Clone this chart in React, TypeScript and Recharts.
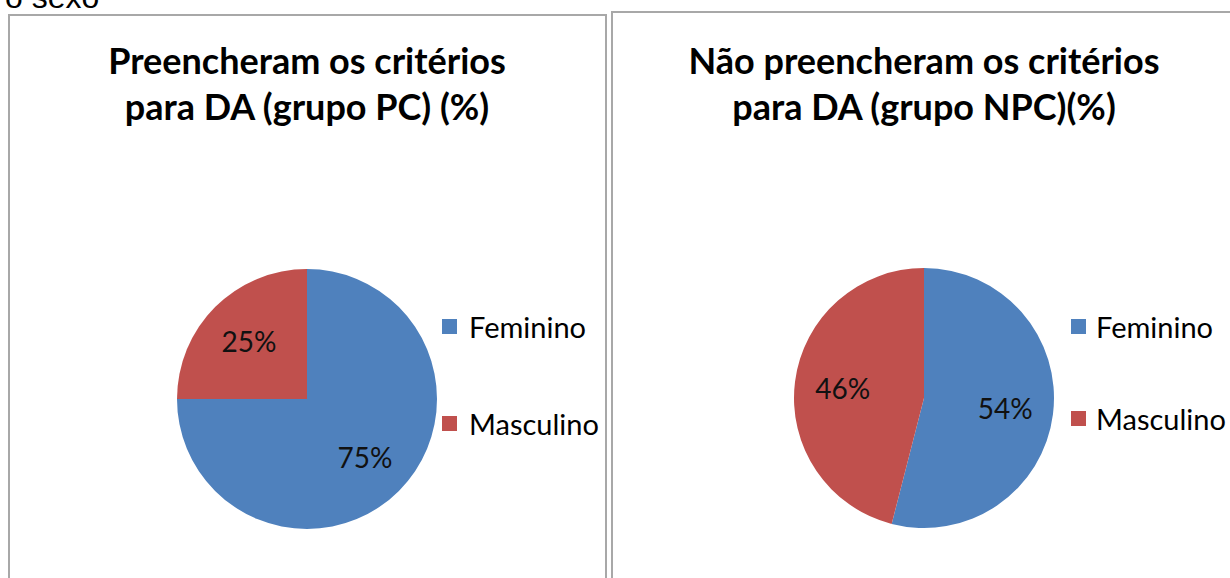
import { PieChart, Pie, Cell, Legend } from "recharts";

const categories = ["Feminino", "Masculino"];
const pcValues = [75, 25];
const npcValues = [54, 46];
const colors = ["#4F81BD", "#C0504D"];

const RAD = Math.PI / 180;

function renderLabel(props: any) {
  const { cx, cy, midAngle, outerRadius, value } = props;
  const r = outerRadius * 0.63;
  const x = cx + r * Math.cos(-midAngle * RAD);
  const y = cy + r * Math.sin(-midAngle * RAD);
  return (
    <text x={x} y={y} textAnchor="middle" dominantBaseline="central" fill="#111" fontSize={28} fontFamily="Lato">
      {value}%
    </text>
  );
}

function LegendBox({ gap, space }: { gap: number; space: number }) {
  return (
    <div>
      {categories.map((c, i) => (
        <div
          key={c}
          style={{ display: "flex", alignItems: "center", height: 30, marginBottom: i === 0 ? gap - 30 : 0, whiteSpace: "nowrap" }}
        >
          <span style={{ width: 15, height: 15, background: colors[i], display: "inline-block", marginRight: space }} />
          <span style={{ fontSize: 29, color: "#000", fontFamily: "Lato" }}>{c}</span>
        </div>
      ))}
    </div>
  );
}

function Panel({
  left,
  top,
  width,
  title,
  values,
  cx,
  cy,
  titleTop,
  legendLeft,
  legendTop,
  legendGap,
  legendSpace,
}: {
  left: number;
  top: number;
  width: number;
  title: string[];
  values: number[];
  cx: number;
  cy: number;
  titleTop: number;
  legendLeft: number;
  legendTop: number;
  legendGap: number;
  legendSpace: number;
}) {
  const data = categories.map((name, i) => ({ name, value: values[i] }));
  return (
    <div
      style={{
        position: "absolute",
        left,
        top,
        width,
        height: 620,
        border: "2px solid #a8a8a8",
        boxSizing: "border-box",
        background: "#fff",
      }}
    >
      <div
        style={{
          position: "absolute",
          left: cx - 300,
          top: titleTop,
          width: 600,
          textAlign: "center",
          fontFamily: "Lato",
          fontWeight: 700,
          fontSize: 36,
          lineHeight: "46px",
          color: "#000",
        }}
      >
        {title.map((t) => (
          <div key={t}>{t}</div>
        ))}
      </div>
      <PieChart
        width={width - 4}
        height={600}
        margin={{ top: 0, right: 0, bottom: 0, left: 0 }}
        style={{ position: "absolute", left: 0, top: 0 }}
      >
        <Pie
          data={data}
          dataKey="value"
          nameKey="name"
          cx={cx}
          cy={cy}
          outerRadius={130}
          startAngle={90}
          endAngle={-270}
          stroke="none"
          label={renderLabel}
          labelLine={false}
          isAnimationActive={false}
        >
          {data.map((d, i) => (
            <Cell key={d.name} fill={colors[i]} />
          ))}
        </Pie>
        <Legend
          content={() => <LegendBox gap={legendGap} space={legendSpace} />}
          wrapperStyle={{ left: legendLeft, top: legendTop, width: 170 }}
        />
      </PieChart>
    </div>
  );
}

export default function App() {
  return (
    <div
      style={{
        position: "absolute",
        left: 0,
        top: 0,
        width: 1230,
        height: 578,
        overflow: "hidden",
        background: "#fff",
      }}
    >
      <div style={{ position: "absolute", left: 5, top: -21, fontFamily: "Liberation Sans", fontSize: 32, color: "#000" }}>
        o sexo
      </div>
      <Panel
        left={8}
        top={14}
        width={599}
        title={["Preencheram os critérios", "para DA (grupo PC) (%)"]}
        values={pcValues}
        cx={297}
        cy={383}
        titleTop={21}
        legendLeft={432}
        legendTop={295}
        legendGap={97}
        legendSpace={12}
      />
      <Panel
        left={611}
        top={11}
        width={640}
        title={["Não preencheram os critérios", "para DA (grupo NPC)(%)"]}
        values={npcValues}
        cx={311}
        cy={385}
        titleTop={24}
        legendLeft={458}
        legendTop={298}
        legendGap={92}
        legendSpace={10}
      />
    </div>
  );
}
